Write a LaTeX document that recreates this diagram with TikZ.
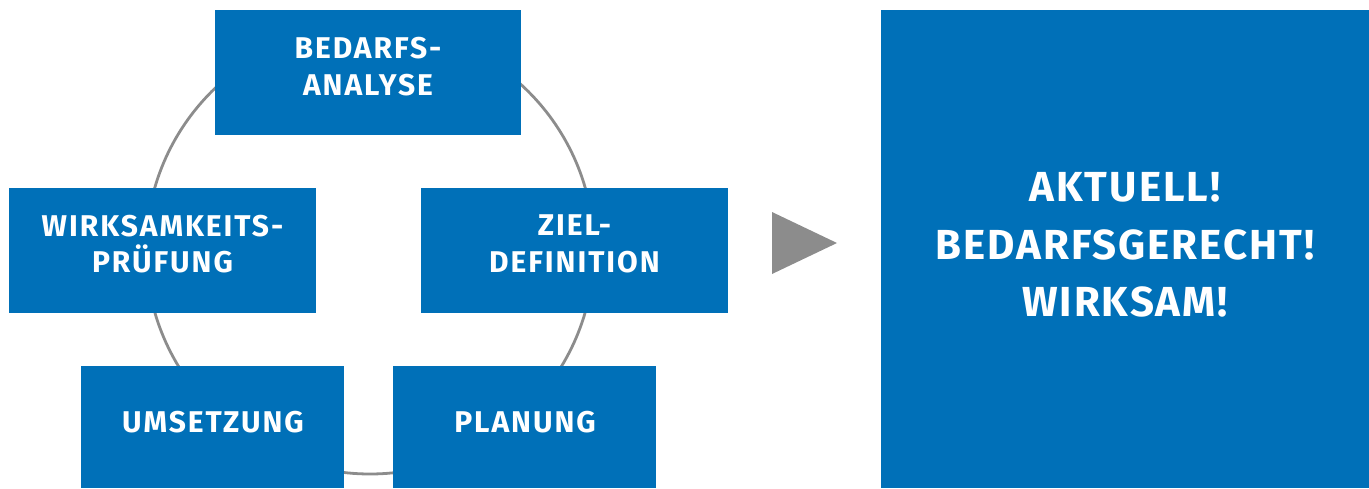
\documentclass[tikz,border=0pt]{standalone}
\usepackage{fontspec}
\newfontfamily\boxfont{Fira Sans}[LetterSpace=6.5]
\newfontfamily\bigfont{Fira Sans}[LetterSpace=4.8]
\definecolor{boxblue}{RGB}{0,112,184}
\definecolor{ringgray}{RGB}{140,140,140}
\begin{document}
\begin{tikzpicture}[x=1pt,y=-1pt,
  stepbox/.style={fill=boxblue,draw=none,minimum width=#1,inner sep=0pt},
  steptext/.style={text=white,align=center,inner sep=0pt,
    font=\boxfont\bfseries\fontsize{30}{36.5}\selectfont},
  bigtext/.style={text=white,align=center,inner sep=0pt,
    font=\bigfont\bfseries\fontsize{42}{57.5}\selectfont}]
\useasboundingbox (0,0) rectangle (1369,488);

% cycle ring behind the steps
\node[circle,draw=ringgray,line width=2.8pt,minimum size=448pt,inner sep=0pt] (ring) at (370,250) {};

% step boxes
\node[stepbox=306pt,minimum height=125pt] (bedarf) at (368,72.5) {};
\node[stepbox=307pt,minimum height=125pt] (wirk) at (162.5,250.5) {};
\node[stepbox=307pt,minimum height=125pt] (ziel) at (574.5,250.5) {};
\node[stepbox=263pt,minimum height=122pt] (umsetz) at (212.5,427) {};
\node[stepbox=263pt,minimum height=122pt] (plan) at (524.5,427) {};

\node[steptext] (bedarfT) at (368,66.5) {BEDARFS-\\ANALYSE};
\node[steptext] (wirkT) at (162.5,244) {WIRKSAMKEITS-\\PRÜFUNG};
\node[steptext] (zielT) at (574.5,244) {ZIEL-\\DEFINITION};
\node[steptext] (umsetzT) at (213,422) {UMSETZUNG};
\node[steptext] (planT) at (525,422) {PLANUNG};

% arrow head towards the result
\coordinate (triA) at (772,212);
\coordinate (triB) at (772,274);
\coordinate (triC) at (837,243);
\fill[ringgray] (triA) -- (triC) -- (triB) -- cycle;

% result box
\node[stepbox=488pt,minimum height=478pt] (result) at (1125,249) {};
\node[bigtext] (resultT) at (1125,245) {AKTUELL!\\BEDARFSGERECHT!\\WIRKSAM!};
\end{tikzpicture}
\end{document}
